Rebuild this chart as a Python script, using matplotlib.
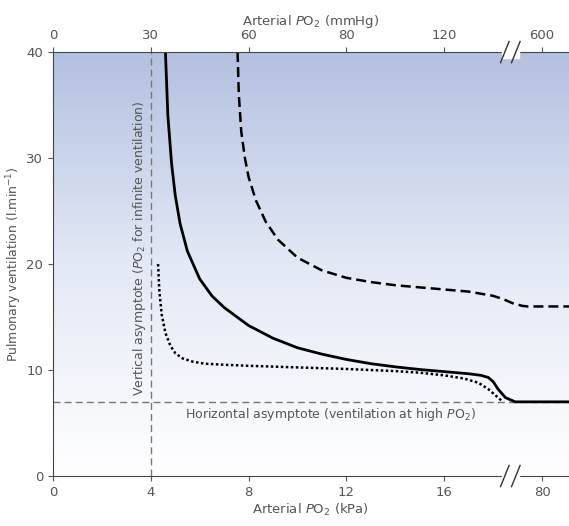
import numpy as np
import matplotlib.pyplot as plt
from matplotlib.colors import LinearSegmentedColormap

# x positions in kPa axis units (80 kPa drawn at position 20, axis broken near 18.5)
solid_x = [4.6, 4.7, 4.85, 5.0, 5.2, 5.5, 6.0, 6.5, 7.0, 8.0, 9.0, 10.0, 11.0, 12.0, 13.0, 14.0, 15.0, 16.0, 17.0, 17.5, 17.8, 18.0, 18.2, 18.5, 18.9, 21.2]
solid_y = [40, 34, 29.5, 26.5, 23.8, 21.2, 18.6, 17.0, 15.9, 14.2, 13.0, 12.1, 11.5, 11.0, 10.6, 10.3, 10.05, 9.85, 9.65, 9.5, 9.3, 8.9, 8.2, 7.4, 7.0, 7.0]
dash_x = [7.55, 7.6, 7.7, 7.85, 8.0, 8.3, 8.7, 9.2, 10.0, 11.0, 12.0, 13.0, 14.0, 15.0, 16.0, 17.0, 17.5, 18.0, 18.4, 18.8, 19.2, 19.4, 21.2]
dash_y = [40, 36, 32.5, 30, 28.2, 26.0, 24.0, 22.3, 20.6, 19.4, 18.7, 18.3, 18.0, 17.8, 17.6, 17.4, 17.2, 17.0, 16.7, 16.3, 16.05, 16.0, 16.0]
dot_x = [4.3, 4.35, 4.45, 4.6, 4.8, 5.0, 5.3, 5.7, 6.2, 7.0, 8.0, 10.0, 12.0, 14.0, 15.0, 16.0, 16.8, 17.4, 17.8, 18.1, 18.4]
dot_y = [20, 17.5, 15.2, 13.5, 12.3, 11.6, 11.1, 10.8, 10.6, 10.5, 10.4, 10.25, 10.1, 9.9, 9.75, 9.5, 9.2, 8.8, 8.2, 7.6, 7.0]

bottom_ticks = [0, 4, 8, 12, 16, 20]
bottom_labels = ['0', '4', '8', '12', '16', '80']
top_labels = ['0', '30', '60', '80', '120', '600']
y_ticks = [0, 10, 20, 30, 40]

fig = plt.figure(figsize=(5.69, 5.26), dpi=100)
ax = fig.add_axes([0.093, 0.095, 0.907, 0.806])
ax.set_xlim(0, 21.1)
ax.set_ylim(0, 40)

grad = np.linspace(0, 1, 256).reshape(-1, 1)
cmap = LinearSegmentedColormap.from_list('bg', ['#ffffff', '#e3e9f5', '#b3c0e0'])
ax.imshow(grad, cmap=cmap, extent=[0, 21.1, 0, 40], aspect='auto', origin='lower', zorder=0)

ax.axhline(7, color='#777777', ls=(0, (5, 3)), lw=1)
ax.axvline(4, color='#777777', ls=(0, (5, 3)), lw=1)

ax.plot(solid_x, solid_y, color='black', lw=2)
ax.plot(dash_x, dash_y, color='black', lw=1.8, ls=(0, (4, 2)))
ax.plot(dot_x, dot_y, color='black', lw=1.8, ls=(0, (1, 1)))

c = '#555555'
ax.text(3.55, 21.5, 'Vertical asymptote ($P$O$_2$ for infinite ventilation)', rotation=90,
        ha='center', va='center', fontsize=9, color=c)
ax.text(5.4, 5.8, 'Horizontal asymptote (ventilation at high $P$O$_2$)', fontsize=9, color=c, va='center')

ax.set_xticks(bottom_ticks)
ax.set_xticklabels(bottom_labels)
ax.set_yticks(y_ticks)
ax.tick_params(colors=c, labelsize=9.5, direction='out')
ax.set_xlabel('Arterial $P$O$_2$ (kPa)', color=c, fontsize=9.5, labelpad=2)
ax.set_ylabel('Pulmonary ventilation (l.min$^{-1}$)', color=c, fontsize=9, labelpad=2)
for s in ['left', 'bottom', 'top']:
    ax.spines[s].set_color('#444444')
ax.spines['right'].set_visible(False)

top = ax.twiny()
top.set_xlim(ax.get_xlim())
top.set_xticks(bottom_ticks)
top.set_xticklabels(top_labels)
top.tick_params(colors=c, labelsize=9.5)
top.set_xlabel('Arterial $P$O$_2$ (mmHg)', color=c, fontsize=9.5, labelpad=3)
for s in top.spines.values():
    s.set_visible(False)

# axis break marks
for yy in (0, 40):
    ax.fill_between([18.35, 19.05], yy - 0.6, yy + 0.6, color='white', zorder=3, clip_on=False)
    for x0 in (18.3, 18.75):
        ax.plot([x0, x0 + 0.35], [yy - 1.0, yy + 1.0], color='#333333', lw=1, clip_on=False, zorder=4)

fig.savefig('out.png', dpi=100)
